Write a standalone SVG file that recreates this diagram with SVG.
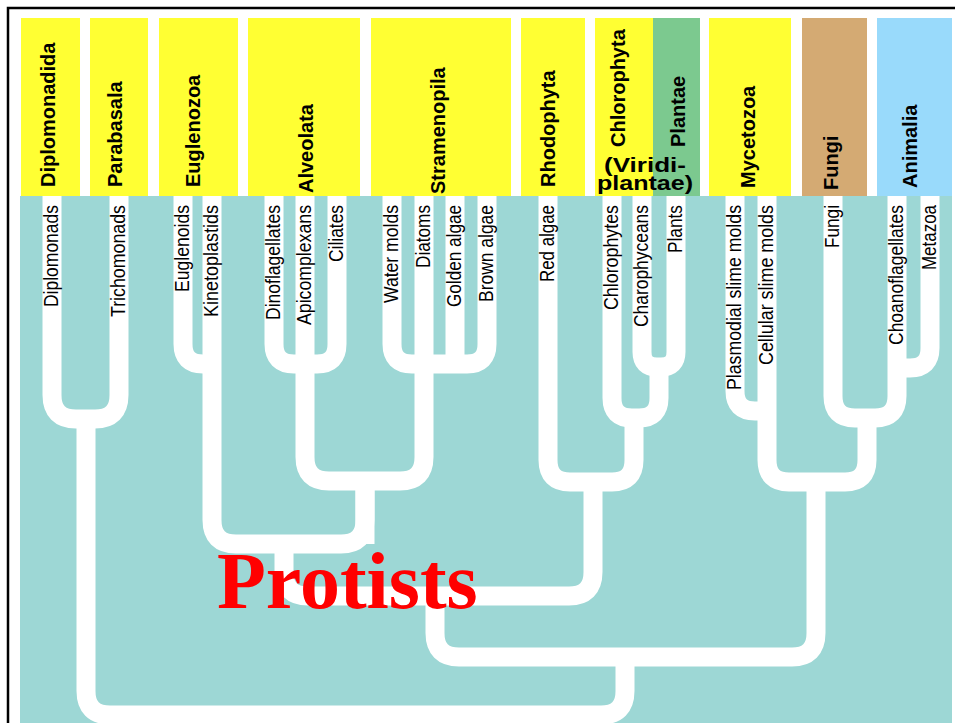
<svg xmlns="http://www.w3.org/2000/svg" width="955" height="723" viewBox="0 0 955 723">
<style>
.hdr{font-family:"Liberation Sans",Arial,sans-serif;font-weight:bold;font-size:20px;fill:#000}
.lf{font-family:"Liberation Sans",Arial,sans-serif;font-size:20px;fill:#000;text-anchor:end}
.br{fill:none;stroke:#fff;stroke-width:19;stroke-linejoin:round}
.y{fill:#FFFF33}
</style>
<rect width="955" height="723" fill="#fff"/>
<rect x="8" y="8" width="960" height="740" fill="none" stroke="#000" stroke-width="2.5"/>
<rect id="panel" x="20" y="196" width="932" height="527" fill="#9DD7D5"/>

<g id="headers">
<g id="h-diplomonadida"><rect class="y" x="21" y="18" width="59" height="178"/><text class="hdr" transform="translate(55,187) rotate(-90)">Diplomonadida</text></g>
<g id="h-parabasala"><rect class="y" x="90" y="18" width="58" height="178"/><text class="hdr" transform="translate(121.5,187) rotate(-90)">Parabasala</text></g>
<g id="h-euglenozoa"><rect class="y" x="159" y="18" width="79" height="178"/><text class="hdr" transform="translate(200,187) rotate(-90)">Euglenozoa</text></g>
<g id="h-alveolata"><rect class="y" x="248" y="18" width="112" height="178"/><text class="hdr" transform="translate(313,193) rotate(-90)">Alveolata</text></g>
<g id="h-stramenopila"><rect class="y" x="371" y="18" width="140" height="178"/><text class="hdr" transform="translate(445,194) rotate(-90)">Stramenopila</text></g>
<g id="h-rhodophyta"><rect class="y" x="521" y="18" width="64" height="178"/><text class="hdr" transform="translate(555,187) rotate(-90)">Rhodophyta</text></g>
<g id="h-chlorophyta"><rect class="y" x="595" y="18" width="59" height="178"/><rect x="653" y="18" width="47" height="178" fill="#7CC98F"/>
<text class="hdr" transform="translate(625,147) rotate(-90)">Chlorophyta</text>
<text class="hdr" font-size="14.5" x="645" y="172" text-anchor="middle" textLength="82" lengthAdjust="spacingAndGlyphs">(Viridi-</text>
<text class="hdr" font-size="14.5" x="645" y="190" text-anchor="middle" textLength="96" lengthAdjust="spacingAndGlyphs">plantae)</text></g>
<g id="h-plantae"><text class="hdr" transform="translate(685,147) rotate(-90)">Plantae</text></g>
<g id="h-mycetozoa"><rect class="y" x="709" y="18" width="82" height="178"/><text class="hdr" transform="translate(755,188) rotate(-90)">Mycetozoa</text></g>
<g id="h-fungi"><rect x="802" y="18" width="65" height="178" fill="#D4AA73"/><text class="hdr" transform="translate(838,190) rotate(-90)">Fungi</text></g>
<g id="h-animalia"><rect x="877" y="18" width="75" height="178" fill="#99DAFB"/><text class="hdr" transform="translate(917,188) rotate(-90)">Animalia</text></g>
</g>

<g id="connectors" class="br">
<path class="br" d="M52 196 V395 Q52 419 76 419 H95 Q119 419 119 395 V196"/>
<path class="br" d="M86 419 V691 Q86 715 110 715 H601 Q625 715 625 691 V657"/>
<path class="br" d="M183 196 V344 Q183 364 203 364 H212"/>
<path class="br" d="M212 196 V520 Q212 544 236 544 H341 Q365 544 365 520 V481"/>
<path class="br" d="M274 196 V344 Q274 364 294 364 H305"/>
<path class="br" d="M337 196 V344 Q337 364 317 364 H305"/>
<path class="br" d="M305 196 V457 Q305 481 329 481 H400 Q424 481 424 457 V196"/>
<path class="br" d="M392 196 V344 Q392 364 412 364 H424"/>
<path class="br" d="M487 196 V344 Q487 364 467 364 H424"/>
<path class="br" d="M455 196 V364"/>
<path class="br" d="M365 481 V544"/>
<path class="br" d="M284 544 V572 Q284 596 308 596 H569 Q593 596 593 572 V482"/>
<path class="br" d="M435 596 V633 Q435 657 459 657 H792 Q816 657 816 633 V482"/>
<path class="br" d="M548 196 V460 Q548 482 570 482 H612 Q634 482 634 460 V418"/>
<path class="br" d="M612 196 V398 Q612 418 632 418 H639 Q659 418 659 398 V367"/>
<path class="br" d="M642 196 V352 Q642 367 657 367 H661 Q676 367 676 352 V196"/>
<path class="br" d="M735 196 V391 Q735 411 755 411 H767"/>
<path class="br" d="M767 196 V460 Q767 482 789 482 H845 Q867 482 867 460 V418"/>
<path class="br" d="M833 196 V396 Q833 418 855 418 H875 Q897 418 897 396 V196"/>
<path class="br" d="M930 196 V348 Q930 368 910 368 H897"/>
</g>

<g id="leaves">
<text class="lf" transform="translate(57.5,205) rotate(-90)" textLength="102" lengthAdjust="spacingAndGlyphs">Diplomonads</text>
<text class="lf" transform="translate(124.5,205) rotate(-90)" textLength="112" lengthAdjust="spacingAndGlyphs">Trichomonads</text>
<text class="lf" transform="translate(188.5,205) rotate(-90)" textLength="87" lengthAdjust="spacingAndGlyphs">Euglenoids</text>
<text class="lf" transform="translate(217.5,205) rotate(-90)" textLength="112" lengthAdjust="spacingAndGlyphs">Kinetoplastids</text>
<text class="lf" transform="translate(279.5,205) rotate(-90)" textLength="115" lengthAdjust="spacingAndGlyphs">Dinoflagellates</text>
<text class="lf" transform="translate(310.5,205) rotate(-90)" textLength="120" lengthAdjust="spacingAndGlyphs">Apicomplexans</text>
<text class="lf" transform="translate(342.5,205) rotate(-90)" textLength="57" lengthAdjust="spacingAndGlyphs">Ciliates</text>
<text class="lf" transform="translate(397.5,205) rotate(-90)" textLength="98" lengthAdjust="spacingAndGlyphs">Water molds</text>
<text class="lf" transform="translate(429.5,205) rotate(-90)" textLength="63" lengthAdjust="spacingAndGlyphs">Diatoms</text>
<text class="lf" transform="translate(460.5,205) rotate(-90)" textLength="102" lengthAdjust="spacingAndGlyphs">Golden algae</text>
<text class="lf" transform="translate(492.5,205) rotate(-90)" textLength="97" lengthAdjust="spacingAndGlyphs">Brown algae</text>
<text class="lf" transform="translate(553.5,205) rotate(-90)" textLength="77" lengthAdjust="spacingAndGlyphs">Red algae</text>
<text class="lf" transform="translate(617.5,205) rotate(-90)" textLength="105" lengthAdjust="spacingAndGlyphs">Chlorophytes</text>
<text class="lf" transform="translate(647.5,205) rotate(-90)" textLength="122" lengthAdjust="spacingAndGlyphs">Charophyceans</text>
<text class="lf" transform="translate(681.5,205) rotate(-90)" textLength="48" lengthAdjust="spacingAndGlyphs">Plants</text>
<text class="lf" transform="translate(740.5,205) rotate(-90)" textLength="185" lengthAdjust="spacingAndGlyphs">Plasmodial slime molds</text>
<text class="lf" transform="translate(772.5,205) rotate(-90)" textLength="160" lengthAdjust="spacingAndGlyphs">Cellular slime molds</text>
<text class="lf" transform="translate(838.5,205) rotate(-90)" textLength="43" lengthAdjust="spacingAndGlyphs">Fungi</text>
<text class="lf" transform="translate(902.5,205) rotate(-90)" textLength="140" lengthAdjust="spacingAndGlyphs">Choanoflagellates</text>
<text class="lf" transform="translate(935.5,205) rotate(-90)" textLength="65" lengthAdjust="spacingAndGlyphs">Metazoa</text>
</g>

<text id="protists" x="217" y="608" font-family="'Liberation Serif','Times New Roman',serif" font-weight="bold" font-size="80" fill="#FF0000">Protists</text>
</svg>
